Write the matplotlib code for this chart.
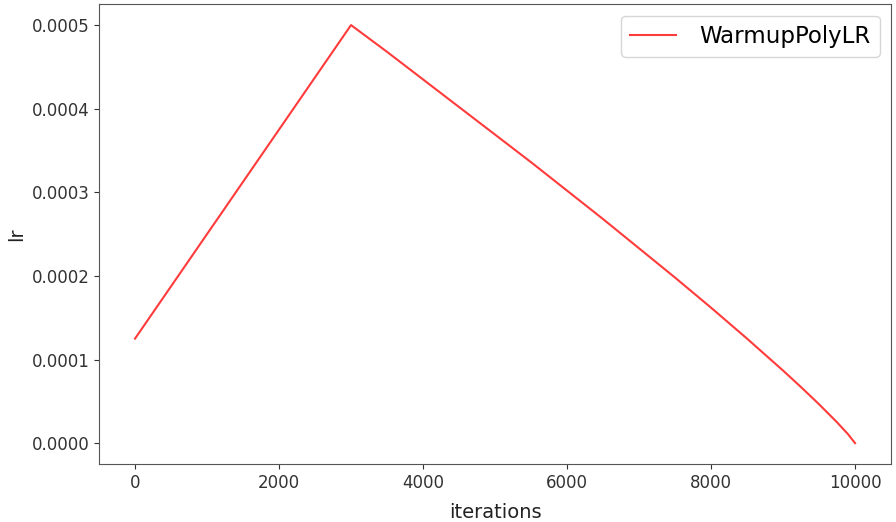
import matplotlib
matplotlib.use("Agg")
import matplotlib.pyplot as plt

iterations = [0, 500, 1000, 1500, 2000, 2500, 3000, 3500, 4000, 4500, 5000, 5500,
              6000, 6500, 7000, 7500, 8000, 8500, 9000, 9250, 9500, 9750, 9900, 10000]
lr = [0.000125, 0.0001875, 0.00025, 0.0003125, 0.000375, 0.0004375, 0.0005,
      0.000468, 0.000435, 0.000402, 0.000369, 0.000336, 0.000302, 0.000268,
      0.000233, 0.000198, 0.000162, 0.000125, 0.0000868, 0.0000670, 0.0000465,
      0.0000249, 0.0000109, 0.0]
series_name = "WarmupPolyLR"
y_ticks = [0.0, 0.0001, 0.0002, 0.0003, 0.0004, 0.0005]
y_tick_labels = ["0.0000", "0.0001", "0.0002", "0.0003", "0.0004", "0.0005"]
x_ticks = [0, 2000, 4000, 6000, 8000, 10000]

fig = plt.figure(figsize=(8.96, 5.22), dpi=100)
ax = fig.add_axes([0.1105, 0.111, 0.884, 0.881])
ax.plot(iterations, lr, color="#ff3b3b", lw=1.5, label=series_name)
ax.set_xticks(x_ticks)
ax.set_yticks(y_ticks)
ax.set_yticklabels(y_tick_labels)
ax.tick_params(labelsize=12, colors="#333333")
for s in ax.spines.values():
    s.set_color("#555555")
ax.set_xlabel("iterations", fontsize=14, color="#222222", labelpad=8)
ax.set_ylabel("lr", fontsize=14, color="#222222")
ax.legend(loc="upper right", fontsize=16.5, handlelength=2.0, handletextpad=1.0)
fig.savefig("out.png", dpi=100)
